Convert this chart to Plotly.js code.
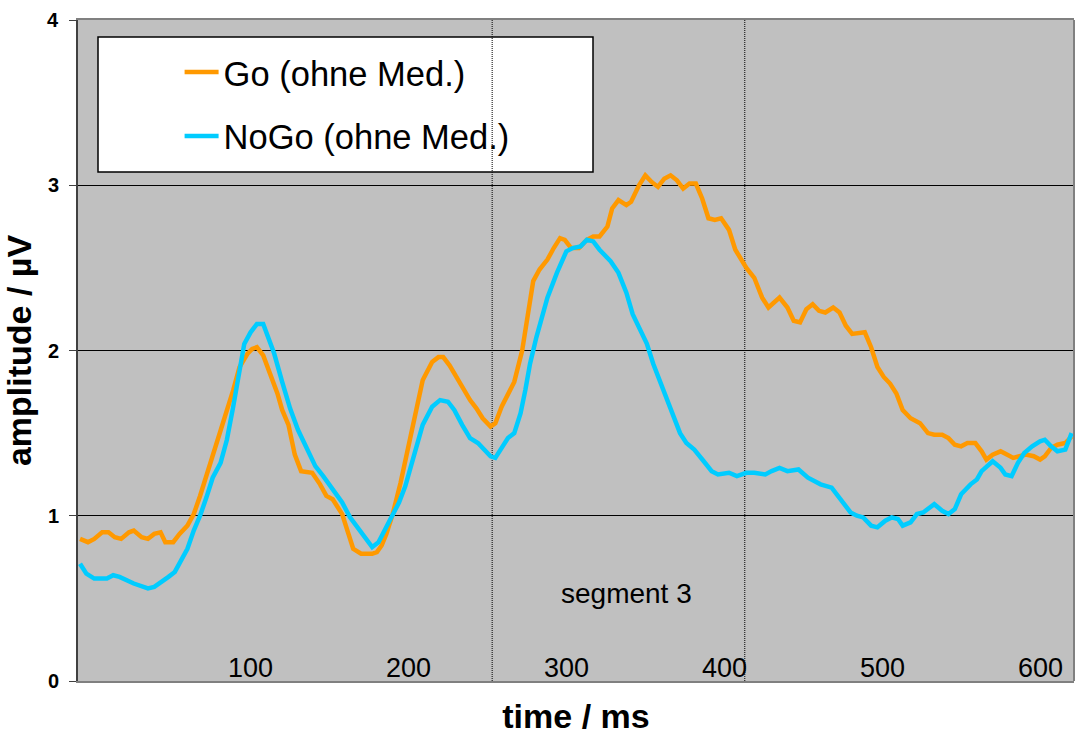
<!DOCTYPE html>
<html>
<head>
<meta charset="utf-8">
<script src="https://cdn.plot.ly/plotly-3.0.1.min.js"></script>
<style>html,body{margin:0;padding:0;background:#fff;}#chart{width:1080px;height:737px;}</style>
</head>
<body>
<div id="chart"></div>
<script>
// time in ms, amplitude in µV
const goTime = [-8,-3,1,6,10,14,18,23,26,31,35,39,43,46,51,55,60,64,68,72,76,81,85,89,93,98,101,104,108,112,117,120,124,128,132,139,144,148,152,158,161,165,170,177,180,183,186,190,195,203,209,215,219,222,226,231,235,239,243,247,252,255,259,263,267,272,276,279,283,288,292,296,299,303,308,313,317,321,326,329,333,338,341,346,350,354,358,362,366,370,374,378,382,386,390,394,398,403,407,412,414,419,424,428,435,440,444,448,452,456,460,464,469,473,477,481,489,493,497,501,505,509,513,518,524,529,533,538,542,546,550,554,559,563,566,570,575,579,583,587,591,596,600,603,607,611,616,620];
const goAmp = [0.86,0.84,0.86,0.90,0.90,0.87,0.86,0.90,0.91,0.87,0.86,0.89,0.90,0.84,0.84,0.89,0.94,1.01,1.12,1.24,1.37,1.50,1.63,1.76,1.90,1.98,2.01,2.02,1.97,1.87,1.74,1.64,1.55,1.37,1.27,1.26,1.19,1.12,1.10,1.01,0.91,0.80,0.77,0.77,0.78,0.82,0.89,1.01,1.20,1.56,1.82,1.93,1.96,1.96,1.91,1.83,1.76,1.70,1.65,1.59,1.54,1.56,1.66,1.74,1.81,2.00,2.24,2.42,2.49,2.55,2.62,2.68,2.67,2.62,2.62,2.67,2.69,2.69,2.75,2.86,2.91,2.88,2.90,3.00,3.06,3.02,2.99,3.04,3.06,3.03,2.98,3.01,3.01,2.92,2.80,2.79,2.80,2.73,2.61,2.53,2.50,2.44,2.32,2.26,2.32,2.26,2.18,2.17,2.25,2.28,2.24,2.23,2.26,2.23,2.15,2.10,2.11,2.02,1.90,1.84,1.80,1.74,1.64,1.59,1.56,1.50,1.49,1.49,1.47,1.43,1.42,1.44,1.44,1.39,1.34,1.37,1.39,1.37,1.35,1.36,1.37,1.36,1.34,1.36,1.41,1.43,1.44,1.48];

const nogoTime = [-8,-4,1,9,13,17,26,31,35,39,44,48,52,55,60,64,68,72,76,81,85,89,93,96,100,104,108,111,115,120,125,130,136,141,146,152,158,163,169,174,177,181,185,189,194,198,203,209,215,220,225,229,234,239,244,248,252,255,259,263,267,271,274,277,281,288,294,300,304,309,313,317,321,328,333,338,342,347,351,355,361,368,372,376,381,387,392,396,403,408,414,419,426,430,435,440,447,453,461,468,473,480,484,488,493,497,502,506,510,513,518,522,526,533,538,542,546,550,556,560,563,567,570,575,578,582,586,590,595,600,603,607,611,616,620];
const nogoAmp = [0.71,0.65,0.62,0.62,0.64,0.63,0.59,0.57,0.56,0.57,0.60,0.63,0.66,0.71,0.80,0.91,1.00,1.11,1.23,1.32,1.46,1.66,1.89,2.04,2.11,2.16,2.16,2.09,1.98,1.81,1.65,1.52,1.40,1.30,1.24,1.16,1.08,0.99,0.91,0.85,0.81,0.84,0.91,0.99,1.08,1.18,1.35,1.55,1.66,1.70,1.69,1.64,1.55,1.47,1.44,1.40,1.36,1.35,1.41,1.47,1.50,1.62,1.76,1.92,2.08,2.32,2.47,2.60,2.62,2.63,2.67,2.66,2.61,2.54,2.47,2.35,2.22,2.12,2.04,1.92,1.77,1.60,1.50,1.44,1.40,1.33,1.27,1.25,1.26,1.24,1.26,1.26,1.25,1.27,1.29,1.27,1.28,1.23,1.19,1.17,1.11,1.02,1.00,0.99,0.94,0.93,0.97,0.99,0.98,0.94,0.96,1.01,1.02,1.07,1.03,1.01,1.04,1.13,1.19,1.22,1.27,1.30,1.33,1.29,1.25,1.24,1.32,1.38,1.42,1.45,1.46,1.42,1.39,1.40,1.50];

const seriesNames = ['Go (ohne Med.)', 'NoGo (ohne Med.)'];
const seriesColors = ['#FF9900', '#00CCFF'];
const xTickVals = [100, 200, 300, 400, 500, 600];
const xTickText = ['100', '200', '300', '400', '500', '600'];
const yTickVals = [0, 1, 2, 3, 4];
const yTickText = ['0', '1', '2', '3', '4'];
const segmentBounds = [253, 413];
const segmentLabel = {text: 'segment 3', x: 338, y: 0.53};
const xRange = [-9.3, 621.5];
const yRange = [0, 4];

const FONT = 'Liberation Sans, Arial, Helvetica, sans-serif';

const traces = [
  {x: goTime, y: goAmp, name: seriesNames[0], legendgroup: 'a', type: 'scatter', mode: 'lines',
   line: {color: seriesColors[0], width: 4.5}},
  {x: nogoTime, y: nogoAmp, name: seriesNames[1], legendgroup: 'b', type: 'scatter', mode: 'lines',
   line: {color: seriesColors[1], width: 4.5}}
];

const shapes = [
  // legend box
  {type: 'rect', xref: 'paper', yref: 'paper', x0: (98-78)/996, x1: (593-78)/996,
   y0: 1-(172-20)/661, y1: 1-(37-20)/661, fillcolor: '#FFFFFF', line: {color: '#000000', width: 1.5}, layer: 'below'},
  // right border
  {type: 'line', xref: 'paper', yref: 'paper', x0: 1, x1: 1, y0: 0, y1: 1, line: {color: '#808080', width: 2}, layer: 'above'}
];
segmentBounds.forEach(function (b) {
  shapes.push({type: 'line', xref: 'x', yref: 'paper', x0: b, x1: b, y0: 0, y1: 1,
    line: {color: '#000000', width: 1, dash: '1px,1px'}, layer: 'below'});
});

const annotations = [
  {text: segmentLabel.text, x: segmentLabel.x, y: segmentLabel.y, xref: 'x', yref: 'y', showarrow: false,
   font: {family: FONT, size: 28, color: '#000000'}}
];
// x tick labels sit inside the plot area, just above the axis
xTickVals.forEach(function (v, i) {
  annotations.push({text: xTickText[i], x: v, y: 0, xref: 'x', yref: 'y', yanchor: 'bottom', yshift: -4,
    showarrow: false, font: {family: FONT, size: 27, color: '#000000'}});
});
// bold y tick labels left of the tick marks
yTickVals.forEach(function (v, i) {
  annotations.push({text: '<b>' + yTickText[i] + '</b>', x: 0, y: v, xref: 'paper', yref: 'y',
    xanchor: 'right', yanchor: 'middle', xshift: -17, showarrow: false,
    font: {family: FONT, size: 20, weight: 'bold', color: '#000000'}});
});

const layout = {
  width: 1080, height: 737,
  margin: {l: 78, r: 6, t: 20, b: 56, pad: 0},
  paper_bgcolor: '#FFFFFF',
  plot_bgcolor: '#C0C0C0',
  font: {family: FONT, color: '#000000'},
  showlegend: true,
  legend: {x: 0.102, y: 0.965, xanchor: 'left', yanchor: 'top', bgcolor: 'rgba(0,0,0,0)', borderwidth: 0,
    font: {family: FONT, size: 34.5, color: '#000000'}, traceorder: 'grouped', tracegroupgap: 16, itemwidth: 34},
  xaxis: {
    range: xRange, showgrid: false, zeroline: false,
    showline: true, linecolor: '#808080', linewidth: 2, mirror: true,
    showticklabels: false, ticks: '',
    title: {text: 'time / ms', font: {family: FONT, size: 34, weight: 'bold', color: '#000000'}, standoff: 22}
  },
  yaxis: {
    range: yRange, showgrid: true, gridcolor: '#000000', gridwidth: 1, zeroline: false,
    showline: true, linecolor: '#404040', linewidth: 2,
    tickmode: 'array', tickvals: yTickVals, showticklabels: false,
    ticks: 'outside', ticklen: 7, tickcolor: '#404040', tickwidth: 1,
    title: {text: 'amplitude / µV', font: {family: FONT, size: 34, weight: 'bold', color: '#000000'}, standoff: 32}
  },
  shapes: shapes,
  annotations: annotations
};

Plotly.newPlot('chart', traces, layout, {displayModeBar: false, staticPlot: true});
</script>
</body>
</html>
